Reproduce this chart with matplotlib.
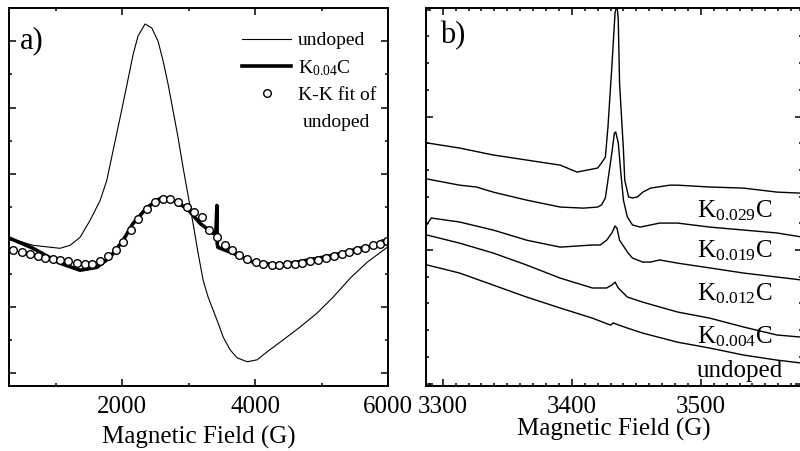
import numpy as np
import matplotlib.pyplot as plt
from matplotlib.ticker import MultipleLocator

plt.rcParams['font.family'] = ['Liberation Serif', 'DejaVu Serif']
plt.rcParams['mathtext.default'] = 'regular'
plt.rcParams['mathtext.fontset'] = 'custom'
plt.rcParams['mathtext.rm'] = 'Liberation Serif'

# ---- panel a: broad line, field in G, signal in arbitrary units
undoped_x = [315, 661, 1067, 1217, 1368, 1518, 1669, 1769, 1864, 1969, 2075, 2165,
             2240, 2345, 2446, 2541, 2616, 2691, 2767, 2842, 2917, 2992, 3067, 3143,
             3218, 3293, 3368, 3443, 3518, 3624, 3729, 3880, 4030, 4180, 4421, 4677,
             4932, 5173, 5429, 5684, 5985]
undoped_y = [0.06, -0.15, -0.24, -0.15, 0.09, 0.6, 1.2, 1.8, 2.7, 3.69, 4.71, 5.6,
             6.16, 6.52, 6.4, 6.0, 5.41, 4.71, 3.9, 3.09, 2.19, 1.35, 0.51, -0.39,
             -1.2, -1.71, -2.1, -2.49, -2.91, -3.3, -3.54, -3.66, -3.6, -3.36, -3.0, -2.61,
             -2.19, -1.71, -1.14, -0.66, -0.21]

k004_x = [315, 661, 1067, 1368, 1624, 1819, 2015, 2165, 2376, 2571, 2721, 2977,
          3173, 3368, 3410, 3425, 3430, 3440, 3669, 3970, 4376, 4782, 5173, 5579, 5985]
k004_y = [0.06, -0.24, -0.69, -0.90, -0.81, -0.51, 0.0, 0.51, 0.99, 1.26, 1.26, 0.96,
          0.51, 0.21, 0.25, 1.05, -0.1, -0.21, -0.39, -0.66, -0.75, -0.60, -0.45, -0.24, -0.09]

kk_fit_x = [365, 491, 616, 741, 841, 966, 1067, 1192, 1318, 1443, 1544, 1669, 1794,
            1909, 2019, 2135, 2245, 2371, 2496, 2621, 2721, 2846, 2973, 3082, 3198,
            3313, 3433, 3549, 3649, 3764, 3884, 4010, 4125, 4251, 4366, 4477, 4601,
            4711, 4827, 4952, 5068, 5178, 5304, 5418, 5529, 5654, 5770, 5880, 5980]
kk_fit_y = [-0.30, -0.35, -0.42, -0.48, -0.52, -0.55, -0.60, -0.63, -0.68, -0.70, -0.70,
            -0.63, -0.48, -0.30, -0.05, 0.30, 0.65, 0.95, 1.15, 1.25, 1.25, 1.17, 1.00,
            0.85, 0.70, 0.30, 0.10, -0.15, -0.30, -0.45, -0.57, -0.65, -0.70, -0.73,
            -0.73, -0.72, -0.70, -0.68, -0.63, -0.58, -0.53, -0.48, -0.42, -0.35, -0.28,
            -0.22, -0.15, -0.10, -0.02]

# ---- panel b: narrow conduction line for several dopings
b_k029_x = [3288, 3313, 3339, 3365, 3391, 3404, 3420, 3423, 3426, 3428, 3431, 3433.5,
            3435, 3436, 3437, 3440, 3441, 3444, 3447, 3451, 3455, 3461, 3476, 3482,
            3507, 3533, 3559, 3578]
b_k029_y = [4.01, 3.82, 3.56, 3.37, 3.18, 2.92, 3.07, 3.26, 3.48, 4.61, 6.85, 8.88,
            9.2, 8.61, 6.25, 3.75, 2.62, 1.99, 1.95, 1.99, 2.17, 2.32, 2.43, 2.43,
            2.36, 2.32, 2.17, 2.13]

b_k019_x = [3288, 3313, 3326, 3339, 3365, 3391, 3409, 3420, 3423, 3426, 3428, 3431,
            3433, 3434, 3436, 3438, 3440, 3443, 3447, 3453, 3468, 3482, 3507, 3533,
            3559, 3578]
b_k019_y = [2.66, 2.43, 2.36, 2.17, 1.87, 1.61, 1.57, 1.61, 1.69, 1.95, 2.62, 3.63,
            4.38, 4.42, 4.01, 2.88, 1.87, 1.24, 0.94, 0.86, 1.01, 1.01, 0.86, 0.75,
            0.64, 0.49]

b_k012_x = [3288, 3291, 3313, 3339, 3365, 3391, 3416, 3422, 3427, 3431, 3433.5, 3435,
            3437, 3443, 3447, 3455, 3461, 3468, 3482, 3507, 3533, 3559, 3578]
b_k012_y = [0.97, 1.20, 1.05, 0.75, 0.37, 0.11, 0.19, 0.19, 0.37, 0.64, 0.90, 0.82,
            0.37, -0.07, -0.30, -0.45, -0.45, -0.37, -0.49, -0.67, -0.86, -1.01, -1.12]

b_k004_x = [3288, 3313, 3339, 3365, 3391, 3416, 3427, 3431, 3433.5, 3436, 3443, 3455,
            3468, 3482, 3507, 3533, 3559, 3578]
b_k004_y = [0.56, 0.26, -0.11, -0.56, -1.05, -1.42, -1.42, -1.31, -1.20, -1.42, -1.76,
            -1.95, -2.13, -2.32, -2.55, -2.88, -3.18, -3.26]

b_und_x = [3288, 3313, 3339, 3365, 3391, 3416, 3430, 3432, 3443, 3455, 3482, 3507,
           3533, 3559, 3578]
b_und_y = [-0.56, -0.86, -1.31, -1.76, -2.17, -2.55, -2.81, -2.73, -2.92, -3.11, -3.45,
           -3.67, -3.93, -4.12, -4.23]

b_series = [(b_k029_x, b_k029_y), (b_k019_x, b_k019_y), (b_k012_x, b_k012_y),
            (b_k004_x, b_k004_y), (b_und_x, b_und_y)]
b_labels = ['K$_{0.029}$C', 'K$_{0.019}$C', 'K$_{0.012}$C', 'K$_{0.004}$C', 'undoped']
b_label_y = [1.24, -0.26, -1.87, -3.48, -4.76]

fig = plt.figure(figsize=(8, 4.51), dpi=100)
ax1 = fig.add_axes([0.01125, 0.1441, 0.474, 0.838])
ax2 = fig.add_axes([0.5325, 0.1441, 0.4694, 0.838])

for ax in (ax1, ax2):
    for s in ax.spines.values():
        s.set_linewidth(1.4)
    ax.tick_params(which='both', direction='in', top=True, right=True,
                   width=1.1, labelsize=18, pad=7)
    ax.tick_params(which='major', length=5)
    ax.tick_params(which='minor', length=2.5)
    ax.tick_params(axis='y', labelleft=False)

# panel a
ax1.plot(undoped_x, undoped_y, color='black', lw=0.8, label='undoped')
ax1.plot(k004_x, k004_y, color='black', lw=2.6, label='K$_{0.04}$C')
ax1.plot(kk_fit_x, kk_fit_y, 'o', ms=5.5, mfc='white', mec='black', mew=1.0,
         label='K-K fit of')
ax1.set_xlim(300, 6000)
ax1.set_ylim(-4.39, 7.0)
ax1.xaxis.set_major_locator(MultipleLocator(2000))
ax1.xaxis.set_minor_locator(MultipleLocator(1000))
ax1.yaxis.set_major_locator(MultipleLocator(2))
ax1.yaxis.set_minor_locator(MultipleLocator(1))
ax1.set_xlabel('Magnetic Field (G)', fontsize=18, labelpad=6)
ax1.text(0.029, 0.913, 'a)', transform=ax1.transAxes, fontsize=22,
         ha='left', va='center')
ax1.legend(loc='upper left', bbox_to_anchor=(0.615, 0.937), frameon=False,
           fontsize=14, handlelength=2.5, handletextpad=0.35,
           labelspacing=0.45, borderpad=0, borderaxespad=0, numpoints=1)
ax1.text(0.776, 0.698, 'undoped', transform=ax1.transAxes, fontsize=14,
         ha='left', va='center')

# panel b
for xs, ys in b_series:
    ax2.plot(xs, ys, color='black', lw=1.0)
for lab, yl in zip(b_labels, b_label_y):
    ax2.text(3497, yl, lab, fontsize=18, ha='left', va='baseline')
ax2.set_xlim(3287, 3578)
ax2.set_ylim(-5.09, 9.06)
ax2.xaxis.set_major_locator(MultipleLocator(100))
ax2.xaxis.set_minor_locator(MultipleLocator(10))
ax2.yaxis.set_major_locator(MultipleLocator(5))
ax2.yaxis.set_minor_locator(MultipleLocator(1))
ax2.set_xlabel('Magnetic Field (G)', fontsize=18, labelpad=0)
ax2.text(0.037, 0.926, 'b)', transform=ax2.transAxes, fontsize=22,
         ha='left', va='center')

fig.savefig('out.png', dpi=100)
